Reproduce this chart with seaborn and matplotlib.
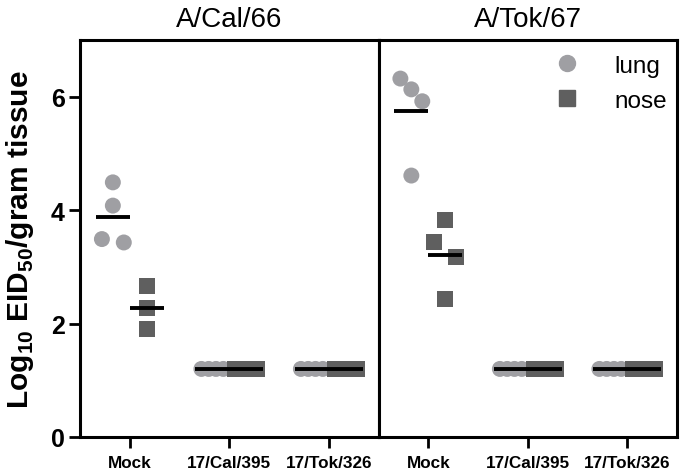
import pandas as pd
import numpy as np
import matplotlib
matplotlib.use("Agg")
import matplotlib.pyplot as plt
from matplotlib.lines import Line2D
import seaborn as sns

# values (log10 EID50 / gram tissue)
viruses = ["A/Cal/66", "A/Tok/67"]
groups = ["Mock", "17/Cal/395", "17/Tok/326"]
tissues = ["lung", "nose"]

cal_lung_mock = [4.49, 4.08, 3.43, 3.49]
cal_nose_mock = [2.67, 2.27, 1.90]
tok_lung_mock = [6.32, 6.13, 5.92, 4.61]
tok_nose_mock = [3.82, 3.43, 3.17, 2.43]
detection_limit = [1.2, 1.2, 1.2, 1.2]

colors = {"lung": "#9f9fa3", "nose": "#5f5f5f"}
markers = {"lung": "o", "nose": "s"}
DODGE = 0.34


def spread(vals, gap=0.3, half=0.11):
    # prism-like scatter: points closer than `gap` get pushed sideways
    vals = np.asarray(vals, dtype=float)
    idx = np.argsort(-vals, kind="stable")
    offs = np.zeros(len(vals))
    cluster = [idx[0]]
    for a, b in zip(idx[:-1], idx[1:]):
        if vals[a] - vals[b] < gap:
            cluster.append(b)
        else:
            if len(cluster) > 1:
                offs[cluster] = np.linspace(-half, half, len(cluster))
            cluster = [b]
    if len(cluster) > 1:
        offs[cluster] = np.linspace(-half, half, len(cluster))
    return offs


def build_frame():
    mock = {
        ("A/Cal/66", "lung"): cal_lung_mock,
        ("A/Cal/66", "nose"): cal_nose_mock,
        ("A/Tok/67", "lung"): tok_lung_mock,
        ("A/Tok/67", "nose"): tok_nose_mock,
    }
    rows = []
    for v in viruses:
        for gi, g in enumerate(groups):
            for ti, t in enumerate(tissues):
                vals = mock[(v, t)] if g == "Mock" else detection_limit
                base = gi + (ti - 0.5) * DODGE
                for val, off in zip(vals, spread(vals)):
                    rows.append({"virus": v, "group": g, "tissue": t,
                                 "value": val, "xpos": base + off})
    return pd.DataFrame(rows)


def draw_panel(ax, sub):
    sns.pointplot(data=sub, x="group", y="value", hue="tissue",
                  hue_order=tissues, order=groups, dodge=DODGE,
                  palette={"lung": "black", "nose": "black"},
                  estimator="mean", errorbar=None, markers="_",
                  linestyle="none", markersize=24, markeredgewidth=2.8,
                  legend=False, ax=ax, zorder=5)
    sns.scatterplot(data=sub, x="xpos", y="value", hue="tissue",
                    style="tissue", hue_order=tissues, style_order=tissues,
                    palette=colors, markers=markers, s=132, linewidth=0,
                    legend=False, ax=ax, zorder=3)


df = build_frame()

sns.set_style("white")
plt.rcParams["font.family"] = ["Liberation Sans", "DejaVu Sans"]
plt.rcParams["mathtext.fontset"] = "custom"
plt.rcParams["mathtext.rm"] = "Liberation Sans:bold"
plt.rcParams["mathtext.bf"] = "Liberation Sans:bold"
for key in ["text.color", "axes.labelcolor", "xtick.color", "ytick.color"]:
    plt.rcParams[key] = "black"

fig, axes = plt.subplots(1, 2, figsize=(6.88, 4.77), dpi=100, sharey=True)
fig.subplots_adjust(left=0.1163, right=0.984, top=0.914, bottom=0.0818, wspace=0)

for ax, v in zip(axes, viruses):
    draw_panel(ax, df[df["virus"] == v])
    ax.set_xlim(-0.5, 2.5)
    ax.set_ylim(0, 7)
    ax.set_xticks(range(len(groups)))
    ax.set_xticklabels(groups)
    ax.set_title(v, fontsize=20, pad=10)
    ax.set_xlabel("")
    ax.set_ylabel("")
    for s in ax.spines.values():
        s.set_visible(True)
        s.set_color("black")
        s.set_linewidth(2.2)
    ax.tick_params(axis="x", direction="out", length=8, width=2, pad=5,
                   bottom=True, labelsize=12.3)
    for lab in ax.get_xticklabels():
        lab.set_fontweight("bold")

axes[0].set_yticks([0, 2, 4, 6])
axes[0].tick_params(axis="y", direction="out", length=8, width=2, pad=3,
                    left=True, labelsize=18)
for lab in axes[0].get_yticklabels():
    lab.set_fontweight("bold")
axes[1].tick_params(axis="y", left=False)
axes[0].set_ylabel(r"Log$_{10}$ EID$_{50}$/gram tissue", fontsize=21.5,
                   fontweight="bold", labelpad=11)

handles = [Line2D([], [], marker=markers[t], color=colors[t], linestyle="none",
                  markersize=11.5) for t in tissues]
axes[1].legend(handles, tissues, loc="upper right", bbox_to_anchor=(1.017, 1.0),
               frameon=False, fontsize=17.5, handletextpad=0.95,
               labelspacing=0.55, borderaxespad=0.2)

fig.savefig("out.png", dpi=100)
